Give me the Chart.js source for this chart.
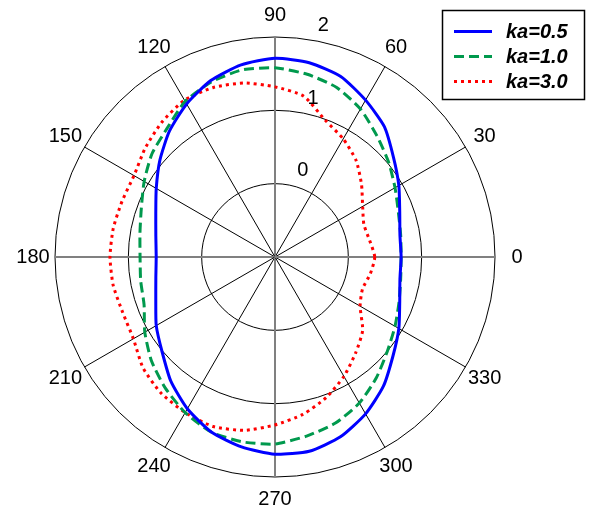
<!DOCTYPE html>
<html>
<head>
<meta charset="utf-8">
<script src="https://cdn.jsdelivr.net/npm/chart.js@4/dist/chart.umd.min.js"></script>
<style>
  html, body { margin: 0; padding: 0; background: #ffffff; }
  canvas { display: block; }
</style>
</head>
<body>
<canvas id="polar" width="590" height="513"></canvas>
<script>
// Polar angle of each sample, degrees, counter-clockwise from the +x axis
const angles = [0, 10, 20, 30, 40, 50, 60, 70, 80, 90, 100, 110, 120, 130, 140, 150, 160, 170,
                180, 190, 200, 210, 220, 230, 240, 250, 260, 270, 280, 290, 300, 310, 320, 330, 340, 350];

// Radial values of the three patterns, one per angle above
const ka05 = [0.72, 0.73, 0.81, 0.95, 1.11, 1.32, 1.47, 1.62, 1.69, 1.71, 1.66, 1.56, 1.41, 1.24, 1.05, 0.87, 0.73, 0.65,
              0.62, 0.65, 0.73, 0.87, 1.01, 1.21, 1.39, 1.54, 1.63, 1.69, 1.69, 1.61, 1.47, 1.30, 1.10, 0.95, 0.81, 0.73];
const ka10 = [0.72, 0.74, 0.79, 0.89, 1.02, 1.16, 1.33, 1.46, 1.53, 1.58, 1.59, 1.54, 1.45, 1.29, 1.19, 1.06, 0.94, 0.87,
              0.84, 0.86, 0.90, 1.05, 1.20, 1.33, 1.45, 1.54, 1.56, 1.55, 1.48, 1.41, 1.30, 1.15, 1.00, 0.89, 0.80, 0.74];
const ka30 = [0.36, 0.31, 0.29, 0.38, 0.54, 0.72, 0.86, 0.99, 1.23, 1.32, 1.41, 1.46, 1.47, 1.40, 1.31, 1.22, 1.22, 1.24,
              1.25, 1.24, 1.21, 1.23, 1.35, 1.42, 1.45, 1.46, 1.40, 1.29, 1.18, 1.04, 0.88, 0.71, 0.56, 0.34, 0.27, 0.32];

const seriesNames = ['ka=0.5', 'ka=1.0', 'ka=3.0'];
const angleTicks = [0, 30, 60, 90, 120, 150, 180, 210, 240, 270, 300, 330];
const radialTicks = [0, 1, 2];
const radialMin = -1;
const radialMax = 2;

// The radar scale walks clockwise from its first label, so feed the samples
// in counter-clockwise order: 0, 350, 340, ... 10.
const order = angles.map((a, i) => (angles.length - i) % angles.length);
const toRadar = arr => order.map(k => arr[k]);
const radarLabels = order.map(k => angles[k]);

// Fractional radar index for any polar angle (degrees)
const indexForAngle = deg => ((360 - deg) % 360) / 360 * radarLabels.length;

const FONT = "'Liberation Sans', Arial, Helvetica, sans-serif";

// Angle labels round the rim, radial tick labels along the 82 degree ray
const polarTextPlugin = {
  id: 'polarText',
  afterDraw(chart) {
    const r = chart.scales.r;
    const ctx = chart.ctx;
    ctx.save();
    ctx.fillStyle = '#000000';
    ctx.font = '20px ' + FONT;
    ctx.textAlign = 'center';
    ctx.textBaseline = 'middle';
    angleTicks.forEach(a => {
      const p = r.getPointPosition(indexForAngle(a), r.drawingArea * 1.1);
      ctx.fillText(String(a), p.x, p.y);
    });
    ctx.textAlign = 'left';
    ctx.textBaseline = 'alphabetic';
    radialTicks.forEach(v => {
      const p = r.getPointPosition(indexForAngle(82), r.getDistanceFromCenterForValue(v + 0.05));
      ctx.fillText(String(v), p.x + 11.5, p.y - 4.5);
    });
    ctx.restore();
  }
};

// Boxed legend in the upper right corner, drawn from the dataset styles
const boxLegendPlugin = {
  id: 'boxLegend',
  afterDraw(chart) {
    const ctx = chart.ctx;
    const box = { x: 442.5, y: 10.5, w: 142, h: 89 };
    ctx.save();
    ctx.fillStyle = '#ffffff';
    ctx.fillRect(box.x, box.y, box.w, box.h);
    ctx.strokeStyle = '#000000';
    ctx.lineWidth = 1.5;
    ctx.strokeRect(box.x, box.y, box.w, box.h);
    ctx.font = 'italic bold 20px ' + FONT;
    ctx.textAlign = 'left';
    ctx.textBaseline = 'middle';
    chart.data.datasets.forEach((ds, i) => {
      const y = 31.5 + i * 25;
      ctx.strokeStyle = ds.borderColor;
      ctx.lineWidth = ds.borderWidth;
      ctx.setLineDash(ds.borderDash || []);
      ctx.beginPath();
      ctx.moveTo(454, y);
      ctx.lineTo(492, y);
      ctx.stroke();
      ctx.setLineDash([]);
      ctx.fillStyle = '#000000';
      ctx.fillText(ds.label, 506, y + 1);
    });
    ctx.restore();
  }
};

new Chart(document.getElementById('polar'), {
  type: 'radar',
  data: {
    labels: radarLabels,
    datasets: [
      { label: seriesNames[0], data: toRadar(ka05), borderColor: '#0000ff', borderWidth: 3, borderDash: [] },
      { label: seriesNames[1], data: toRadar(ka10), borderColor: '#00994d', borderWidth: 3, borderDash: [10, 5] },
      { label: seriesNames[2], data: toRadar(ka30), borderColor: '#ff0000', borderWidth: 3, borderDash: [3, 4] }
    ]
  },
  options: {
    responsive: false,
    animation: false,
    devicePixelRatio: 1,
    layout: { padding: { left: 55, right: 95, top: 37, bottom: 36 } },
    elements: {
      line: { fill: false, tension: 0.2 },
      point: { radius: 0, hitRadius: 0, hoverRadius: 0 }
    },
    plugins: {
      legend: { display: false },
      tooltip: { enabled: false }
    },
    scales: {
      r: {
        min: radialMin,
        max: radialMax,
        startAngle: 90,
        ticks: { display: false, stepSize: 1 },
        pointLabels: { display: false },
        grid: { circular: true, color: '#000000', lineWidth: 1 },
        angleLines: {
          display: true,
          color: c => (c.label % 90 === 0 ? '#808080' : (c.label % 30 === 0 ? '#000000' : 'rgba(0,0,0,0)')),
          lineWidth: c => (c.label % 90 === 0 ? 2 : (c.label % 30 === 0 ? 1 : 0))
        }
      }
    }
  },
  plugins: [polarTextPlugin, boxLegendPlugin]
});
</script>
</body>
</html>
